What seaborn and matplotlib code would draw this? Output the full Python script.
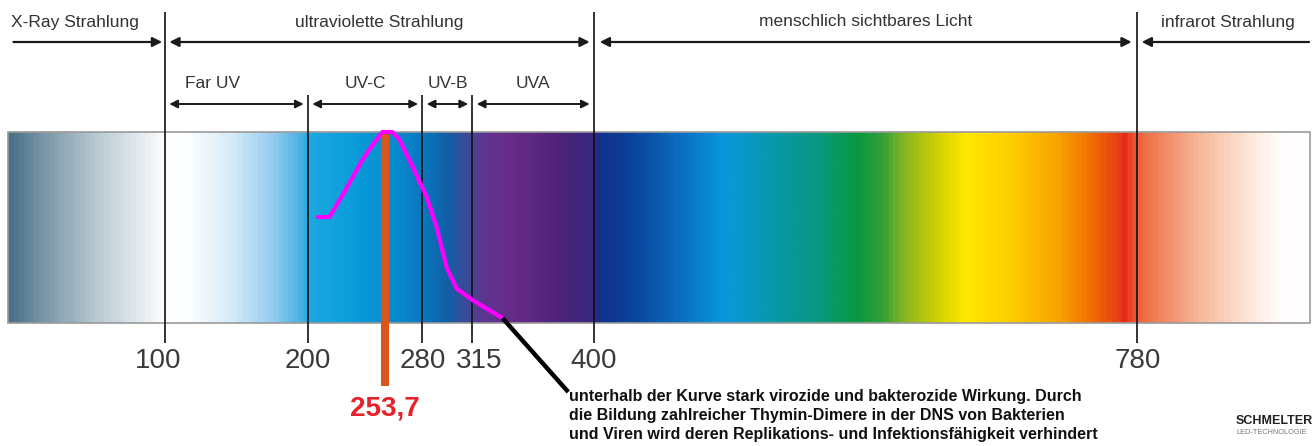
import numpy as np
import pandas as pd
import seaborn as sns
import matplotlib.pyplot as plt
from matplotlib.colors import LinearSegmentedColormap
from matplotlib.patches import Rectangle

# Wellenlaengen (nm) der Grenzlinien und Beschriftungen
grenzen = [100, 200, 280, 315, 400, 780]
grenz_labels = ['100', '200', '280', '315', '400', '780']
lange_linien = [100, 400, 780]

# Hauptbereiche oben
bereiche = ['X-Ray Strahlung', 'ultraviolette Strahlung', 'menschlich sichtbares Licht', 'infrarot Strahlung']
bereich_von = [-6, 103, 404, 783]
bereich_bis = [98, 397, 776, 900]
bereich_stil = ['->', '<->', '<->', '<-']

# UV Unterbereiche
uv_namen = ['Far UV', 'UV-C', 'UV-B', 'UVA']
uv_von = [100, 200, 280, 315]
uv_bis = [200, 280, 315, 400]

# Farbverlauf des Spektrums (nm, Farbe)
spektrum_nm = [-10, 12.6, 47.6, 82.5, 100, 117, 145, 173, 194, 201, 229, 264, 281, 296, 310,
               324, 348, 376, 400, 403, 425, 460, 492, 523, 558, 586, 603, 621, 642, 663,
               691, 726, 750, 771, 776, 778, 789, 824, 859, 883, 903]
spektrum_farben = ['#4a7088', '#7896a6', '#b4c6ce', '#e6edf0', '#ffffff', '#fbfdff', '#d6ebf8',
                   '#98cff0', '#48b2e2', '#1ca8e0', '#0a9edb', '#0888cc', '#0a76be', '#1060a8',
                   '#3a4c98', '#603490', '#662a86', '#4c2478', '#382880', '#12308e', '#0a4098',
                   '#0a6cc0', '#0898dc', '#0898b0', '#089880', '#089840', '#30a038', '#90b820',
                   '#d0d000', '#ffe800', '#ffd000', '#f8a600', '#f07000', '#e83a18', '#e42418',
                   '#ec4a2a', '#f07048', '#f6b394', '#fce4d6', '#fffdfc', '#ffffff']

# Wirkungskurve (relativ, 0..1 der Balkenhoehe)
kurve_nm = [207, 215, 225, 237, 243, 252, 259, 264, 273, 283, 290, 297, 304, 315, 336]
kurve_wert = [0.555, 0.555, 0.68, 0.84, 0.91, 1.0, 1.0, 0.96, 0.82, 0.66, 0.50, 0.29, 0.18, 0.12, 0.026]

hg_linie = 253.7
hg_label = '253,7'

hinweis = ['unterhalb der Kurve stark virozide und bakterozide Wirkung. Durch',
           'die Bildung zahlreicher Thymin-Dimere in der DNS von Bakterien',
           'und Viren wird deren Replikations- und Infektionsfähigkeit verhindert']

sns.set_theme(style='white')
plt.rcParams['font.family'] = ['Liberation Sans', 'DejaVu Sans']

fig = plt.figure(figsize=(13.13, 4.46), dpi=100)
ax = fig.add_axes([0, 0, 1, 1])

bar_top, bar_bot = 132, 323

# Spektrum
pos = (np.array(spektrum_nm) - spektrum_nm[0]) / (spektrum_nm[-1] - spektrum_nm[0])
cmap = LinearSegmentedColormap.from_list('spektrum', list(zip(pos, spektrum_farben)))
grad = np.linspace(0, 1, 1200).reshape(1, -1)
ax.imshow(grad, cmap=cmap, aspect='auto', extent=(spektrum_nm[0], 901, bar_bot, bar_top),
          interpolation='bilinear', zorder=1)
ax.add_patch(Rectangle((spektrum_nm[0], bar_top), 901 - spektrum_nm[0], bar_bot - bar_top,
                       fill=False, edgecolor='#9a9a9a', lw=1.2, zorder=2))

# Grenzlinien und Beschriftung
for g, lab in zip(grenzen, grenz_labels):
    top = 12 if g in lange_linien else 95
    ax.vlines(g, top, 343, color='#111111', lw=1.2, zorder=3)
    dx = 5 if g == 315 else (-5 if g == 100 else 0)
    ax.text(g + dx, 361, lab, ha='center', va='center', fontsize=20, color='#3a3a3a')

# Pfeile oben
for name, a, b, st in zip(bereiche, bereich_von, bereich_bis, bereich_stil):
    ax.annotate('', xy=(b, 42), xytext=(a, 42),
                arrowprops=dict(arrowstyle=st.replace('>', '|>').replace('<', '<|'),
                                mutation_scale=14, lw=1.6, color='#1a1a1a', shrinkA=0, shrinkB=0))
    cx = (a + b) / 2 if name != 'X-Ray Strahlung' else 37
    if name == 'infrarot Strahlung':
        cx = 843
    ax.text(cx, 22, name, ha='center', va='center', fontsize=12.5, color='#333333')

for name, a, b in zip(uv_namen, uv_von, uv_bis):
    ax.annotate('', xy=(b - 3, 104), xytext=(a + 3, 104),
                arrowprops=dict(arrowstyle='<|-|>', mutation_scale=12, lw=1.4, color='#1a1a1a',
                                shrinkA=0, shrinkB=0))
    cx = (a + b) / 2
    if name == 'Far UV':
        cx = 133
    ax.text(cx, 83, name, ha='center', va='center', fontsize=12.5, color='#333333')

# Hg Linie
ax.vlines(hg_linie, bar_top, 386, color='#d9561e', lw=5.8, zorder=4)
ax.text(hg_linie, 408, hg_label, ha='center', va='center', fontsize=20, fontweight='bold',
        color='#e8202a')

# Wirkungskurve
df = pd.DataFrame({'nm': kurve_nm, 'y': [bar_bot - w * (bar_bot - bar_top) for w in kurve_wert]})
sns.lineplot(data=df, x='nm', y='y', ax=ax, color='#ff00ff', lw=3, sort=False, zorder=5)

# Hinweis
ax.plot([kurve_nm[-1], 382], [df['y'].iloc[-1], 392], color='black', lw=3.2, zorder=5,
        solid_capstyle='butt')
for i, zeile in enumerate(hinweis):
    ax.text(382.5, 397 + i * 18.5, zeile, ha='left', va='center', fontsize=11.5, fontweight='bold',
            color='#111111')

# Logo
ax.text(849, 421, 'SCHMELTER', ha='left', va='center', fontsize=9, fontweight='bold', color='#222222')
ax.text(849, 432, 'LED-TECHNOLOGIE', ha='left', va='center', fontsize=5.3, color='#777777')

ax.set_xlim((0 - 22) / 1.43, (1313 - 22) / 1.43)
ax.set_ylim(446, 0)
ax.axis('off')

fig.savefig('out.png', dpi=100)
